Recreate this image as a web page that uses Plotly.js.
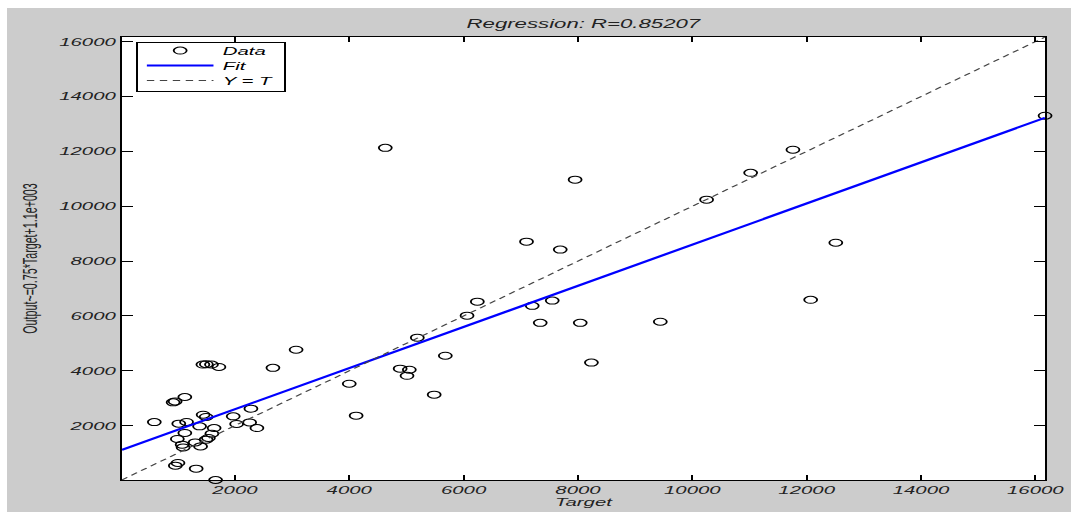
<!DOCTYPE html>
<html><head><meta charset="utf-8">
<script src="https://cdn.plot.ly/plotly-3.0.1.min.js"></script>
<style>
html,body{margin:0;padding:0;background:#fff;width:1071px;height:512px;overflow:hidden;}
#wrap{position:absolute;left:7px;top:8px;width:575px;height:504px;transform:scaleX(1.8504);transform-origin:0 0;}
#chart{width:575px;height:504px;}
</style></head><body>
<div id="wrap"><div id="chart"></div></div>
<script>
// Data
const targets = [16170, 4630, 11760, 11020, 7950, 10250, 7100, 7690, 12510, 12070,
  6240, 7200, 7550, 6060, 7340, 8040, 9440, 8235, 5190, 3070,
  5680, 2665, 4890, 5050, 5010, 4000, 5485, 4120, 2280, 1440,
  1500, 1590, 1720, 1124, 954, 919, 590, 1018, 1154, 1444,
  1496, 1970, 1382, 1636, 2030, 2257, 2385, 1124, 1597, 1536,
  1496, 993, 1305, 1077, 1094, 1399, 1004, 958, 1322, 1662];
const outputs = [13300, 12130, 12060, 11220, 10970, 10240, 8710, 8420, 8670, 6590,
  6520, 6370, 6560, 6010, 5750, 5750, 5790, 4300, 5210, 4770,
  4550, 4110, 4080, 4040, 3820, 3530, 3130, 2365, 2620, 4230,
  4240, 4230, 4140, 3046, 2886, 2850, 2130, 2073, 2135, 2400,
  2317, 2340, 1975, 1915, 2062, 2120, 1915, 1734, 1708, 1552,
  1490, 1515, 1391, 1307, 1209, 1245, 640, 542, 432, 20];
const fitSlope = 0.75;
const fitIntercept = 1100;
const axisLimits = [20, 16170];
const tickValues = [2000, 4000, 6000, 8000, 10000, 12000, 14000, 16000];
const tickLabels = ['2000', '4000', '6000', '8000', '10000', '12000', '14000', '16000'];
const titleText = 'Regression: R=0.85207';
const xTitle = 'Target';
const yTitle = 'Output~=0.75*Target+1.1e+003';
const legendNames = ['Data', 'Fit', 'Y = T'];

const fitY = axisLimits.map(v => fitSlope * v + fitIntercept);

const traces = [
  {x: targets, y: outputs, mode: 'markers', type: 'scatter', name: legendNames[0],
   cliponaxis: false,
   marker: {symbol: 'circle-open', size: 7, color: '#000', line: {width: 1, color: '#000'}}},
  {x: axisLimits, y: fitY, mode: 'lines', type: 'scatter', name: legendNames[1],
   line: {color: '#0000ff', width: 2}},
  {x: axisLimits, y: axisLimits, mode: 'lines', type: 'scatter', name: legendNames[2],
   line: {color: '#444', width: 1, dash: '4px,3px'}}
];

const tickFont = {family: 'Liberation Sans, Arial, sans-serif', size: 11, color: '#222', style: 'italic'};
const axisCommon = {
  range: axisLimits, tickvals: tickValues, ticktext: tickLabels,
  showgrid: false, zeroline: false, showline: true, linecolor: '#000', linewidth: 1,
  mirror: 'ticks', ticks: 'inside', tickcolor: '#000', tickwidth: 1,
  tickfont: tickFont
};

const layout = {
  width: 575, height: 504,
  paper_bgcolor: '#cccccc', plot_bgcolor: '#ffffff',
  margin: {l: 61.6, r: 13.5, t: 29, b: 32},
  font: {family: 'Liberation Sans, Arial, sans-serif', color: '#222'},
  title: {text: titleText, font: {size: 12, style: 'italic', color: '#222'},
          xref: 'paper', x: 0.5, xanchor: 'center', yref: 'container', y: 0.968, yanchor: 'middle'},
  xaxis: Object.assign({}, axisCommon, {ticklen: 5,
    title: {text: xTitle, font: {size: 11, style: 'italic', color: '#222'}, standoff: 1}}),
  yaxis: Object.assign({}, axisCommon, {ticklen: 6,
    title: {text: yTitle, font: {size: 10.7, color: '#222'}, standoff: 9}}),
  showlegend: true,
  legend: {x: 0.0152, y: 0.9887, xanchor: 'left', yanchor: 'top',
    bgcolor: '#fff', bordercolor: '#000', borderwidth: 1,
    font: {size: 11, style: 'italic', color: '#000'}, tracegroupgap: 0, itemwidth: 36}
};

Plotly.newPlot('chart', traces, layout, {displayModeBar: false, staticPlot: true}).then(gd => {
  // tighten legend row spacing to match the compact reference legend
  const items = gd.querySelectorAll('g.legend g.traces');
  const bg = gd.querySelector('g.legend rect.bg');
  if (items.length < 2 || !bg) return;
  const ys = Array.from(items).map(el => {
    const m = /translate\(\s*([-\d.]+)[ ,]+([-\d.]+)/.exec(el.getAttribute('transform') || '');
    return m ? [parseFloat(m[1]), parseFloat(m[2])] : [0, 0];
  });
  const spacing = ys[1][1] - ys[0][1];
  const rowGap = 15;
  items.forEach((el, i) => {
    el.setAttribute('transform', 'translate(' + ys[i][0] + ',' + (ys[0][1] - 7 + i * rowGap) + ')');
  });
  const h = parseFloat(bg.getAttribute('height'));
  bg.setAttribute('height', h - (items.length - 1) * (spacing - rowGap) - 11);
});
</script>
</body></html>
